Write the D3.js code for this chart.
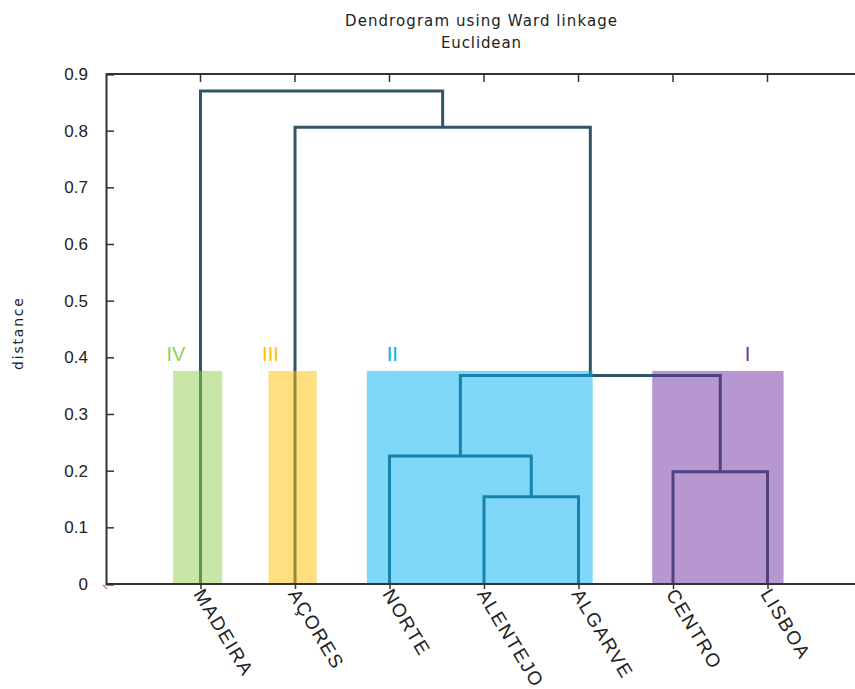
<!DOCTYPE html>
<html>
<head>
<meta charset="utf-8">
<script src="https://cdn.jsdelivr.net/npm/d3@7"></script>
<style>
  html, body { margin: 0; padding: 0; background: #fff; }
  svg { display: block; }
</style>
</head>
<body>
<svg id="chart" width="855" height="689"></svg>
<script>
// Leaves in dendrogram order
const leaves = ["MADEIRA", "AÇORES", "NORTE", "ALENTEJO", "ALGARVE", "CENTRO", "LISBOA"];

// Merge steps: [left child, right child, height]; a number refers to an earlier merge
const merges = [
  ["ALENTEJO", "ALGARVE", 0.154],
  ["NORTE", 0, 0.226],
  ["CENTRO", "LISBOA", 0.198],
  [1, 2, 0.368],
  ["AÇORES", 3, 0.806],
  ["MADEIRA", 4, 0.870]
];

const yTicks = [0, 0.1, 0.2, 0.3, 0.4, 0.5, 0.6, 0.7, 0.8, 0.9];

// Cluster groups: name, colour, first/last leaf covered, band cut height
const clusterNames = ["IV", "III", "II", "I"];
const clusterColors = ["#92d050", "#ffc000", "#00b0f0", "#7030a0"];
const clusterFirst = ["MADEIRA", "AÇORES", "NORTE", "CENTRO"];
const clusterLast = ["MADEIRA", "AÇORES", "ALGARVE", "LISBOA"];
const cutHeight = 0.376;

// Layout (pixel geometry in leaf units)
const bandPadLeft = [0.29, 0.28, 0.24, 0.22];
const bandPadRight = [0.23, 0.23, 0.15, 0.17];
const labelOffset = [-0.26, -0.26, 0.03, 0.79];

const svg = d3.select("#chart");
const margin = { left: 106, top: 74, bottom: 584 };
const step = 94.5;

const x = d3.scaleLinear().domain([0, 8]).range([margin.left, margin.left + 8 * step]);
const y = d3.scaleLinear().domain([0, 0.9]).range([margin.bottom, margin.top]);
const leafPos = name => leaves.indexOf(name) + 1;

// Resolve node positions (x in leaf units, height)
const nodes = [];
function resolve(c) {
  if (typeof c === "number") return nodes[c];
  return { x: leafPos(c), h: 0 };
}
merges.forEach(([a, b, h]) => {
  const l = resolve(a), r = resolve(b);
  nodes.push({ x: (l.x + r.x) / 2, h, l, r });
});

// Dendrogram links
const lineColor = "#2f5566";
svg.append("g")
  .selectAll("path")
  .data(nodes)
  .join("path")
  .attr("d", d => `M${x(d.l.x)},${y(d.l.h)}V${y(d.h)}H${x(d.r.x)}V${y(d.r.h)}`)
  .attr("fill", "none")
  .attr("stroke", lineColor)
  .attr("stroke-width", 3)
  .attr("stroke-linejoin", "miter");

// Cluster bands (translucent, over the links)
svg.append("g")
  .selectAll("rect")
  .data(clusterNames)
  .join("rect")
  .attr("x", (d, i) => x(leafPos(clusterFirst[i]) - bandPadLeft[i]))
  .attr("width", (d, i) => x(leafPos(clusterLast[i]) + bandPadRight[i]) - x(leafPos(clusterFirst[i]) - bandPadLeft[i]))
  .attr("y", y(cutHeight))
  .attr("height", y(0) - y(cutHeight))
  .attr("fill", (d, i) => clusterColors[i])
  .attr("opacity", 0.5);

// Cluster labels
svg.append("g")
  .selectAll("text")
  .data(clusterNames)
  .join("text")
  .attr("x", (d, i) => x(leafPos(clusterFirst[i]) + labelOffset[i]))
  .attr("y", y(0.393))
  .attr("text-anchor", "middle")
  .attr("font-family", "Liberation Sans, Arial, sans-serif")
  .attr("font-size", 20)
  .attr("fill", (d, i) => clusterColors[i])
  .text(d => d);

// Frame lines
const axisColor = "#333";
svg.append("line").attr("x1", x(0)).attr("x2", 855).attr("y1", y(0.9)).attr("y2", y(0.9))
  .attr("stroke", axisColor).attr("stroke-width", 2);
svg.append("line").attr("x1", x(0)).attr("x2", 855).attr("y1", y(0)).attr("y2", y(0))
  .attr("stroke", axisColor).attr("stroke-width", 2);

// Left axis
const yAxis = d3.axisLeft(y).tickValues(yTicks).tickSize(-8).tickPadding(18)
  .tickFormat(d => d === 0 ? "0" : d3.format(".1f")(d));
const gy = svg.append("g").attr("transform", `translate(${x(0)},0)`).call(yAxis);
gy.select(".domain").attr("stroke", axisColor).attr("stroke-width", 2);
gy.selectAll(".tick line").attr("stroke", axisColor).attr("stroke-width", 1.5);
gy.selectAll(".tick text")
  .attr("font-family", "Liberation Sans, Arial, sans-serif")
  .attr("font-size", 17)
  .attr("fill", "#222");

// Top ticks (pointing inward)
svg.append("g")
  .selectAll("line")
  .data(leaves)
  .join("line")
  .attr("x1", d => x(leafPos(d))).attr("x2", d => x(leafPos(d)))
  .attr("y1", y(0.9)).attr("y2", y(0.9) + 8)
  .attr("stroke", axisColor).attr("stroke-width", 1.5);

// Bottom axis with rotated leaf labels
const xAxis = d3.axisBottom(x).tickValues(leaves.map((d, i) => i + 1))
  .tickSize(5).tickFormat(i => leaves[i - 1]);
const gx = svg.append("g").attr("transform", `translate(0,${y(0)})`).call(xAxis);
gx.select(".domain").remove();
gx.selectAll(".tick line").attr("stroke", axisColor).attr("stroke-width", 1.5);
gx.selectAll(".tick text")
  .attr("font-family", "Liberation Sans, Arial, sans-serif")
  .attr("font-size", 19)
  .attr("fill", "#222")
  .attr("text-anchor", "start")
  .attr("dy", null)
  .attr("y", 0)
  .attr("x", 0)
  .attr("transform", "translate(-8,10) rotate(59)")
  .attr("letter-spacing", 1.6);

// Small red mark at the origin
svg.append("line").attr("x1", x(0) - 3).attr("x2", x(0) + 1).attr("y1", y(0) + 1).attr("y2", y(0) + 5)
  .attr("stroke", "#e07070").attr("stroke-width", 1.2);

// Axis title
svg.append("text")
  .attr("transform", `translate(23,334) rotate(-90)`)
  .attr("text-anchor", "middle")
  .attr("font-family", "DejaVu Sans, sans-serif")
  .attr("font-size", 14)
  .attr("textLength", 72)
  .attr("lengthAdjust", "spacing")
  .attr("fill", "#222")
  .text("distance");

// Chart title
const titleG = svg.append("g").attr("font-family", "DejaVu Sans, sans-serif")
  .attr("font-size", 15).attr("fill", "#222").attr("text-anchor", "middle");
titleG.append("text").attr("x", 481).attr("y", 26)
  .attr("textLength", 272).attr("lengthAdjust", "spacing")
  .text("Dendrogram using Ward linkage");
titleG.append("text").attr("x", 481).attr("y", 48)
  .attr("textLength", 80).attr("lengthAdjust", "spacing")
  .text("Euclidean");
</script>
</body>
</html>
